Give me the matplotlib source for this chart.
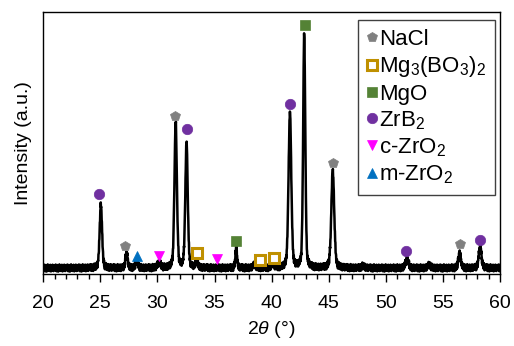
import numpy as np
import matplotlib
matplotlib.use("Agg")
import matplotlib.pyplot as plt
from matplotlib.ticker import MultipleLocator, NullLocator

plt.rcParams["font.family"] = ["Liberation Sans", "DejaVu Sans"]
plt.rcParams["mathtext.fontset"] = "custom"
plt.rcParams["mathtext.rm"] = "Liberation Sans"
plt.rcParams["mathtext.it"] = "Liberation Sans:italic"

# diffraction peaks (2theta, height above baseline, FWHM)
peak_pos = [25.05, 27.3, 28.2, 30.15, 31.6, 32.55, 33.45, 36.9, 38.5, 40.1,
            41.6, 42.85, 45.35, 48.0, 51.85, 53.8, 56.45, 58.25]
peak_height = [63, 15, 7, 5, 145, 125, 8, 20, 3, 4,
               155, 232, 97, 2, 9, 3, 15, 21]
peak_fwhm = [0.25, 0.22, 0.25, 0.35, 0.25, 0.25, 0.2, 0.18, 0.3, 0.25,
             0.28, 0.22, 0.3, 0.3, 0.3, 0.3, 0.25, 0.28]
baseline = 6.0
# baseline jitter, read as a repeating sample of the noisy floor
jitter = [1.2, -1.8, 2.9, -0.6, 3.4, -2.7, 0.3, 1.6, -3.3, 0.9,
          -1.4, 3.0, -2.2, 0.6, 2.4, -3.6, 1.3, -0.4, 2.0, -1.5,
          3.6, -1.0, -2.8, 1.5, 0.2, -2.0, 2.7, -3.0, 0.8, 2.1,
          -0.9, 3.2, -2.4, 0.5, -3.4, 1.8, 1.0, -1.6, 2.6, -0.3,
          -2.5, 3.3, -1.2, 0.0, 2.2, -3.1, 1.4, -0.8, 2.9, -2.1, 0.9]

# phase markers: 2theta positions and marker heights
phases = {
    "NaCl": ([27.2, 31.55, 45.35, 56.5], [28, 158, 111, 30]),
    "Mg$_3$(BO$_3$)$_2$": ([33.5, 39.0, 40.2], [21, 14, 16]),
    "MgO": ([36.9, 42.9], [33, 249]),
    "ZrB$_2$": ([24.9, 32.55, 41.6, 51.8, 58.25], [80, 145, 170, 23, 34]),
    "c-ZrO$_2$": ([30.15, 35.2], [18, 15]),
    "m-ZrO$_2$": ([28.2, ], [18]),
}
styles = {
    "NaCl": dict(marker="p", color="#808080", ms=7.5),
    "Mg$_3$(BO$_3$)$_2$": dict(marker="s", color="white", mec="#BF9000", mew=2.2, ms=6.5),
    "MgO": dict(marker="s", color="#548235", ms=7),
    "ZrB$_2$": dict(marker="o", color="#7030A0", ms=7.5),
    "c-ZrO$_2$": dict(marker="v", color="#FF00FF", ms=7.5),
    "m-ZrO$_2$": dict(marker="^", color="#0070C0", ms=7.5),
}

x = np.arange(20.0, 60.0001, 0.02)
y = baseline + np.resize(np.array(jitter), x.size)
for p, h, w in zip(peak_pos, peak_height, peak_fwhm):
    d = (x - p) / (w / 2)
    y += h * (0.3 / (1 + d ** 2) + 0.7 * np.exp(-np.log(2) * d ** 2))

fig = plt.figure(figsize=(5.14, 3.46), dpi=100)
ax = fig.add_axes([0.084, 0.208, 0.889, 0.757])
ax.plot(x, y, color="black", lw=1.8)
for name, (px, py) in phases.items():
    st = styles[name]
    ax.plot(px, py, ls="none", marker=st["marker"], ms=st["ms"],
            mfc=st["color"], mec=st.get("mec", st["color"]),
            mew=st.get("mew", 0.5), label=name)

ax.set_xlim(20, 60)
ax.set_ylim(0, 262)
ax.xaxis.set_major_locator(MultipleLocator(5))
ax.xaxis.set_minor_locator(MultipleLocator(1))
ax.yaxis.set_major_locator(NullLocator())
ax.tick_params(axis="x", which="major", length=6, width=1, direction="out",
               labelsize=14, pad=9)
ax.tick_params(axis="x", which="minor", length=3.5, width=1, direction="out")
for s in ax.spines.values():
    s.set_linewidth(1.0)
ax.set_xlabel(r"2$\it{\theta}$ (°)", fontsize=14, labelpad=5)
ax.set_ylabel("Intensity (a.u.)", fontsize=14, labelpad=8)

leg = ax.legend(loc="upper right", bbox_to_anchor=(0.988, 0.97), fontsize=16,
                frameon=True, fancybox=False, framealpha=1, edgecolor="#404040",
                handlelength=0.4, handletextpad=0.12, borderpad=0.4,
                labelspacing=0.2, borderaxespad=0)
leg.get_frame().set_linewidth(1.0)

fig.savefig("out.png", dpi=100)
